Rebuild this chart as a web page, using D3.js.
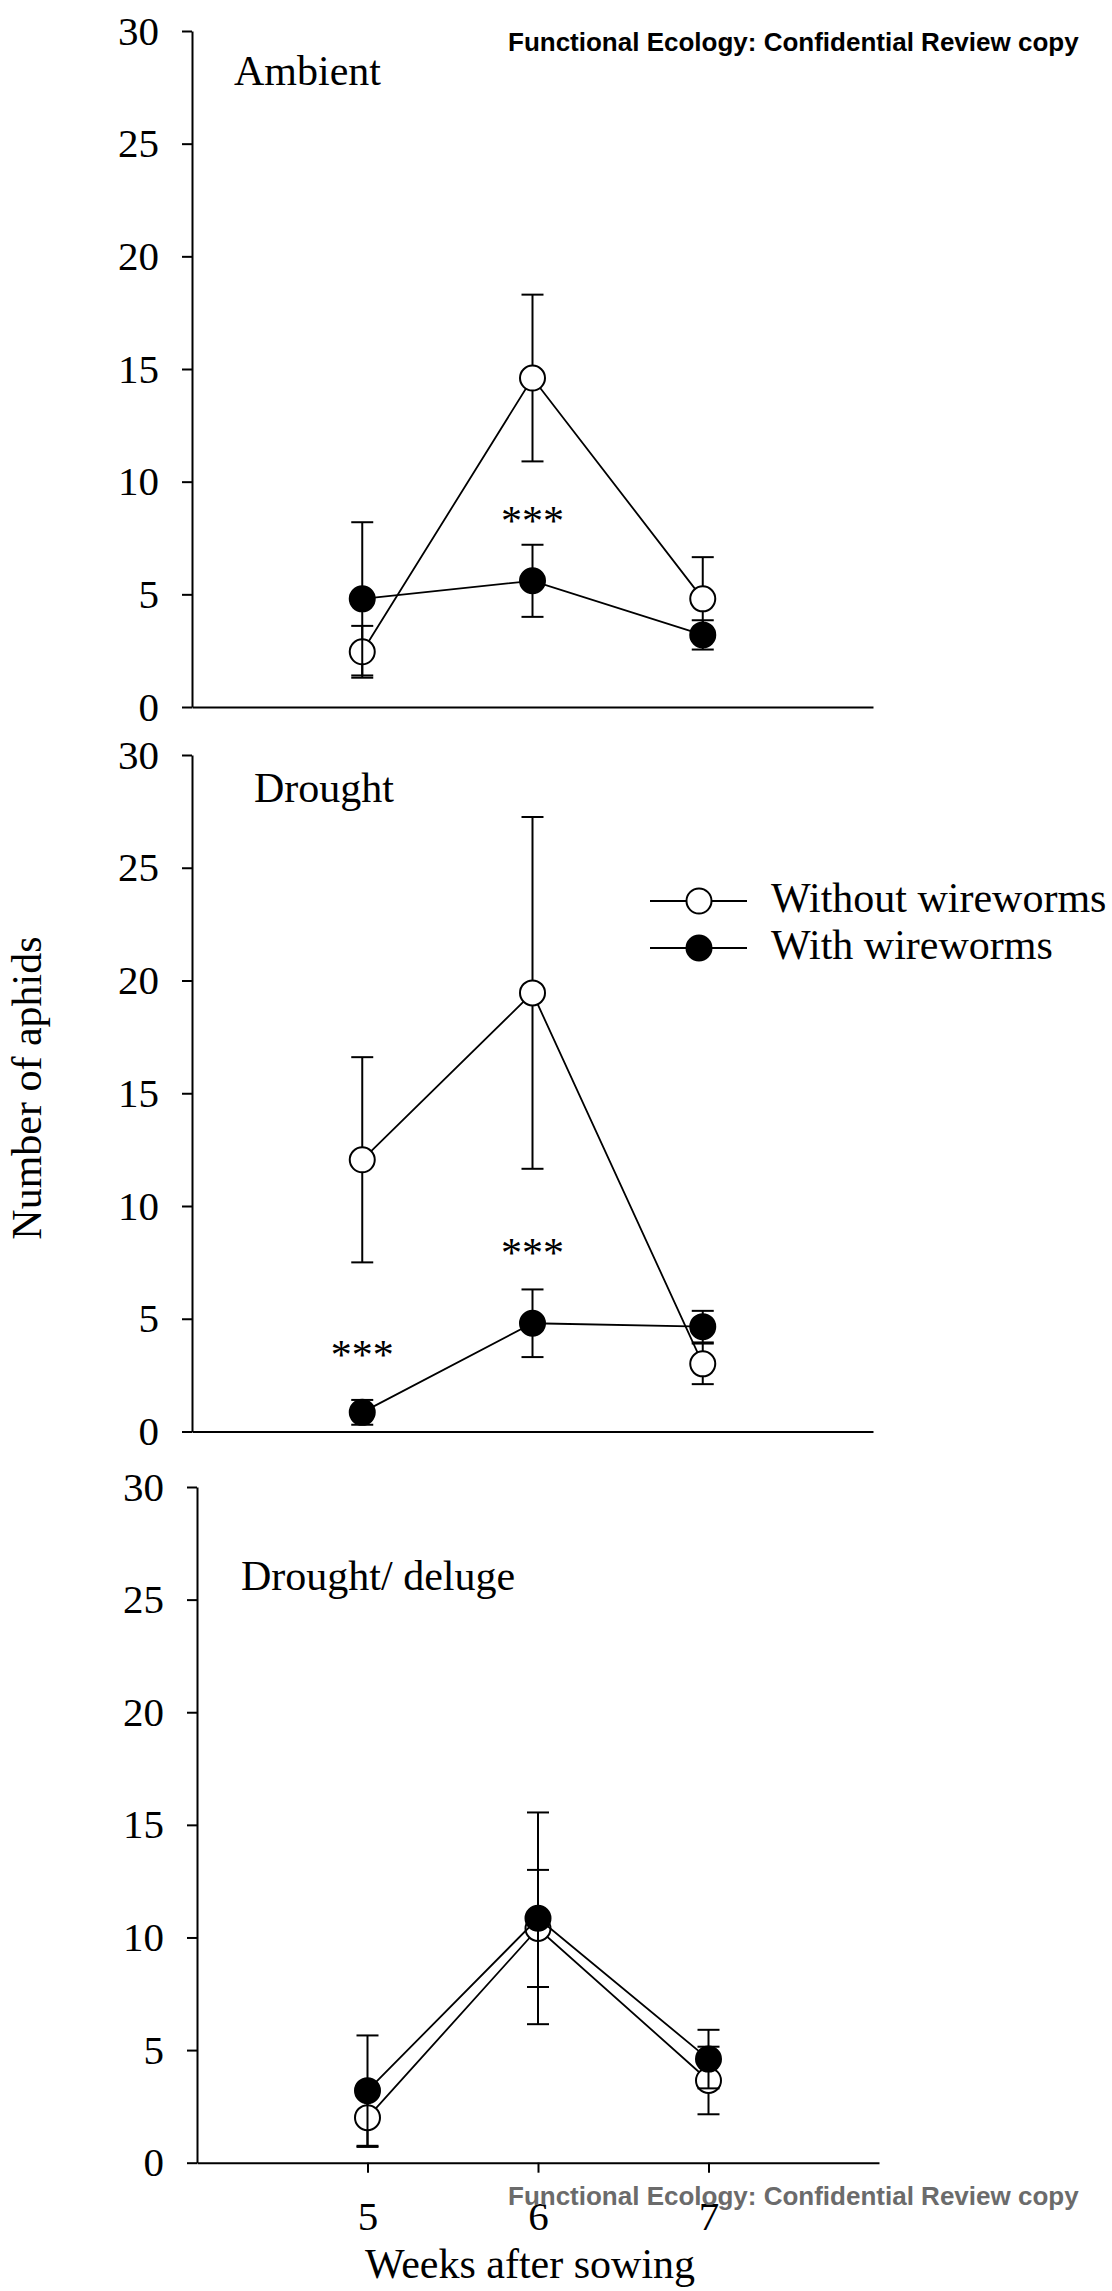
<!DOCTYPE html>
<html>
<head>
  <meta charset="utf-8">
  <script src="https://d3js.org/d3.v7.min.js"></script>
  <style>
    body { margin: 0; background: #fff; }
    .panel-label, .axis-title, .legend-text, .stars, .tick text {
      font-family: "Liberation Serif", "Times New Roman", serif !important;
      fill: #000;
    }
    .watermark {
      font-family: "Liberation Sans", Arial, sans-serif;
      font-weight: bold;
      font-size: 26px;
    }
  </style>
</head>
<body>
  <svg width="1112" height="2291"></svg>
  <script>
    // data
    var weeks = [5, 6, 7];
    var panelNames = ["Ambient", "Drought", "Drought/ deluge"];
    var yTicks = [0, 5, 10, 15, 20, 25, 30];

    // without wireworms (open symbols)
    var withoutMean = [[2.45, 14.6, 4.8], [12.05, 19.45, 3.0], [2.0, 10.4, 3.65]];
    var withoutSE   = [[1.15, 3.7, 1.85], [4.55, 7.8, 0.9], [1.3, 2.6, 1.5]];
    // with wireworms (filled symbols)
    var withMean = [[4.8, 5.6, 3.2], [0.85, 4.8, 4.65], [3.2, 10.85, 4.6]];
    var withSE   = [[3.4, 1.6, 0.65], [0.55, 1.5, 0.7], [2.45, 4.7, 1.3]];

    // significance marks: week and height (in y units) of the "***"
    var stars = [
      [{week: 6, y: 8.5}],
      [{week: 5, y: 3.65}, {week: 6, y: 8.2}],
      []
    ];

    var seriesNames = ["Without wireworms", "With wireworms"];

    // panel placement on the page
    var layout = [
      {top: 31, bottom: 707, left: 192, right: 873, label: [234, 85]},
      {top: 755, bottom: 1431.5, left: 192, right: 873, label: [254, 802]},
      {top: 1487, bottom: 2162.7, left: 197, right: 879, label: [241, 1590]}
    ];

    var svg = d3.select("svg");
    var r = 12.5, cap = 11;
    var serif = "Liberation Serif, Times New Roman, serif";

    layout.forEach(function(L, i) {
      var g = svg.append("g");
      var x = d3.scaleLinear().domain([4, 8]).range([L.left, L.right]);
      var y = d3.scaleLinear().domain([0, 30]).range([L.bottom, L.top]);

      // y axis
      var ya = g.append("g")
        .attr("transform", "translate(" + L.left + ",0)")
        .call(d3.axisLeft(y).tickValues(yTicks).tickFormat(d3.format("d"))
          .tickSize(10).tickSizeOuter(0).tickPadding(23))
        .attr("font-family", serif)
        .attr("font-size", 41);

      // x axis
      var xa = g.append("g")
        .attr("transform", "translate(0," + L.bottom + ")");
      if (i === 2) {
        xa.call(d3.axisBottom(x).tickValues(weeks).tickFormat(d3.format("d"))
          .tickSize(10).tickSizeOuter(0).tickPadding(28))
          .attr("font-family", serif)
          .attr("font-size", 41);
      } else {
        xa.call(d3.axisBottom(x).tickValues([]).tickSizeOuter(0));
      }
      g.selectAll(".domain, .tick line").attr("stroke", "#000").attr("stroke-width", 2);
      g.selectAll(".tick text").attr("fill", "#000");

      g.append("text")
        .attr("class", "panel-label")
        .attr("x", L.label[0]).attr("y", L.label[1])
        .style("font-size", "42px")
        .text(panelNames[i]);

      var series = [
        {mean: withoutMean[i], se: withoutSE[i], fill: "#fff"},
        {mean: withMean[i], se: withSE[i], fill: "#000"}
      ];

      series.forEach(function(s) {
        var pts = weeks.map(function(w, j) { return {w: w, m: s.mean[j], e: s.se[j]}; });

        g.append("path")
          .datum(pts)
          .attr("fill", "none")
          .attr("stroke", "#000")
          .attr("stroke-width", 1.8)
          .attr("d", d3.line().x(function(d) { return x(d.w); }).y(function(d) { return y(d.m); }));

        var eb = g.append("g").attr("stroke", "#000").attr("stroke-width", 2);
        pts.forEach(function(d) {
          var cx = x(d.w);
          eb.append("line").attr("x1", cx).attr("x2", cx).attr("y1", y(d.m - d.e)).attr("y2", y(d.m + d.e));
          eb.append("line").attr("x1", cx - cap).attr("x2", cx + cap).attr("y1", y(d.m + d.e)).attr("y2", y(d.m + d.e));
          eb.append("line").attr("x1", cx - cap).attr("x2", cx + cap).attr("y1", y(d.m - d.e)).attr("y2", y(d.m - d.e));
        });

        g.selectAll(null)
          .data(pts)
          .enter().append("circle")
          .attr("cx", function(d) { return x(d.w); })
          .attr("cy", function(d) { return y(d.m); })
          .attr("r", r)
          .attr("fill", s.fill)
          .attr("stroke", "#000")
          .attr("stroke-width", 2);
      });

      g.selectAll(".stars")
        .data(stars[i])
        .enter().append("text")
        .attr("class", "stars")
        .attr("x", function(d) { return x(d.week); })
        .attr("y", function(d) { return y(d.y) + 20; })
        .attr("text-anchor", "middle")
        .style("font-size", "42px")
        .text("***");

      // legend sits in the drought panel
      if (i === 1) {
        var leg = svg.append("g");
        seriesNames.forEach(function(name, k) {
          var ly = 901 + k * 47;
          leg.append("line").attr("x1", 650).attr("x2", 747).attr("y1", ly).attr("y2", ly)
            .attr("stroke", "#000").attr("stroke-width", 1.8);
          leg.append("circle").attr("cx", 699).attr("cy", ly).attr("r", r)
            .attr("fill", k === 0 ? "#fff" : "#000").attr("stroke", "#000").attr("stroke-width", 2);
          leg.append("text").attr("class", "legend-text")
            .attr("x", 771).attr("y", ly + 11)
            .style("font-size", "42px")
            .text(name);
        });
      }
    });

    svg.append("text")
      .attr("class", "axis-title")
      .attr("x", 530).attr("y", 2278)
      .attr("text-anchor", "middle")
      .style("font-size", "42px")
      .text("Weeks after sowing");

    svg.append("text")
      .attr("class", "axis-title")
      .attr("transform", "translate(41,1088) rotate(-90)")
      .attr("text-anchor", "middle")
      .style("font-size", "42px")
      .text("Number of aphids");

    svg.append("text")
      .attr("class", "watermark")
      .attr("x", 508).attr("y", 51)
      .attr("fill", "#000")
      .text("Functional Ecology: Confidential Review copy");

    svg.append("text")
      .attr("class", "watermark")
      .attr("x", 508).attr("y", 2205)
      .attr("fill", "#6b6b6b")
      .text("Functional Ecology: Confidential Review copy");
  </script>
</body>
</html>
